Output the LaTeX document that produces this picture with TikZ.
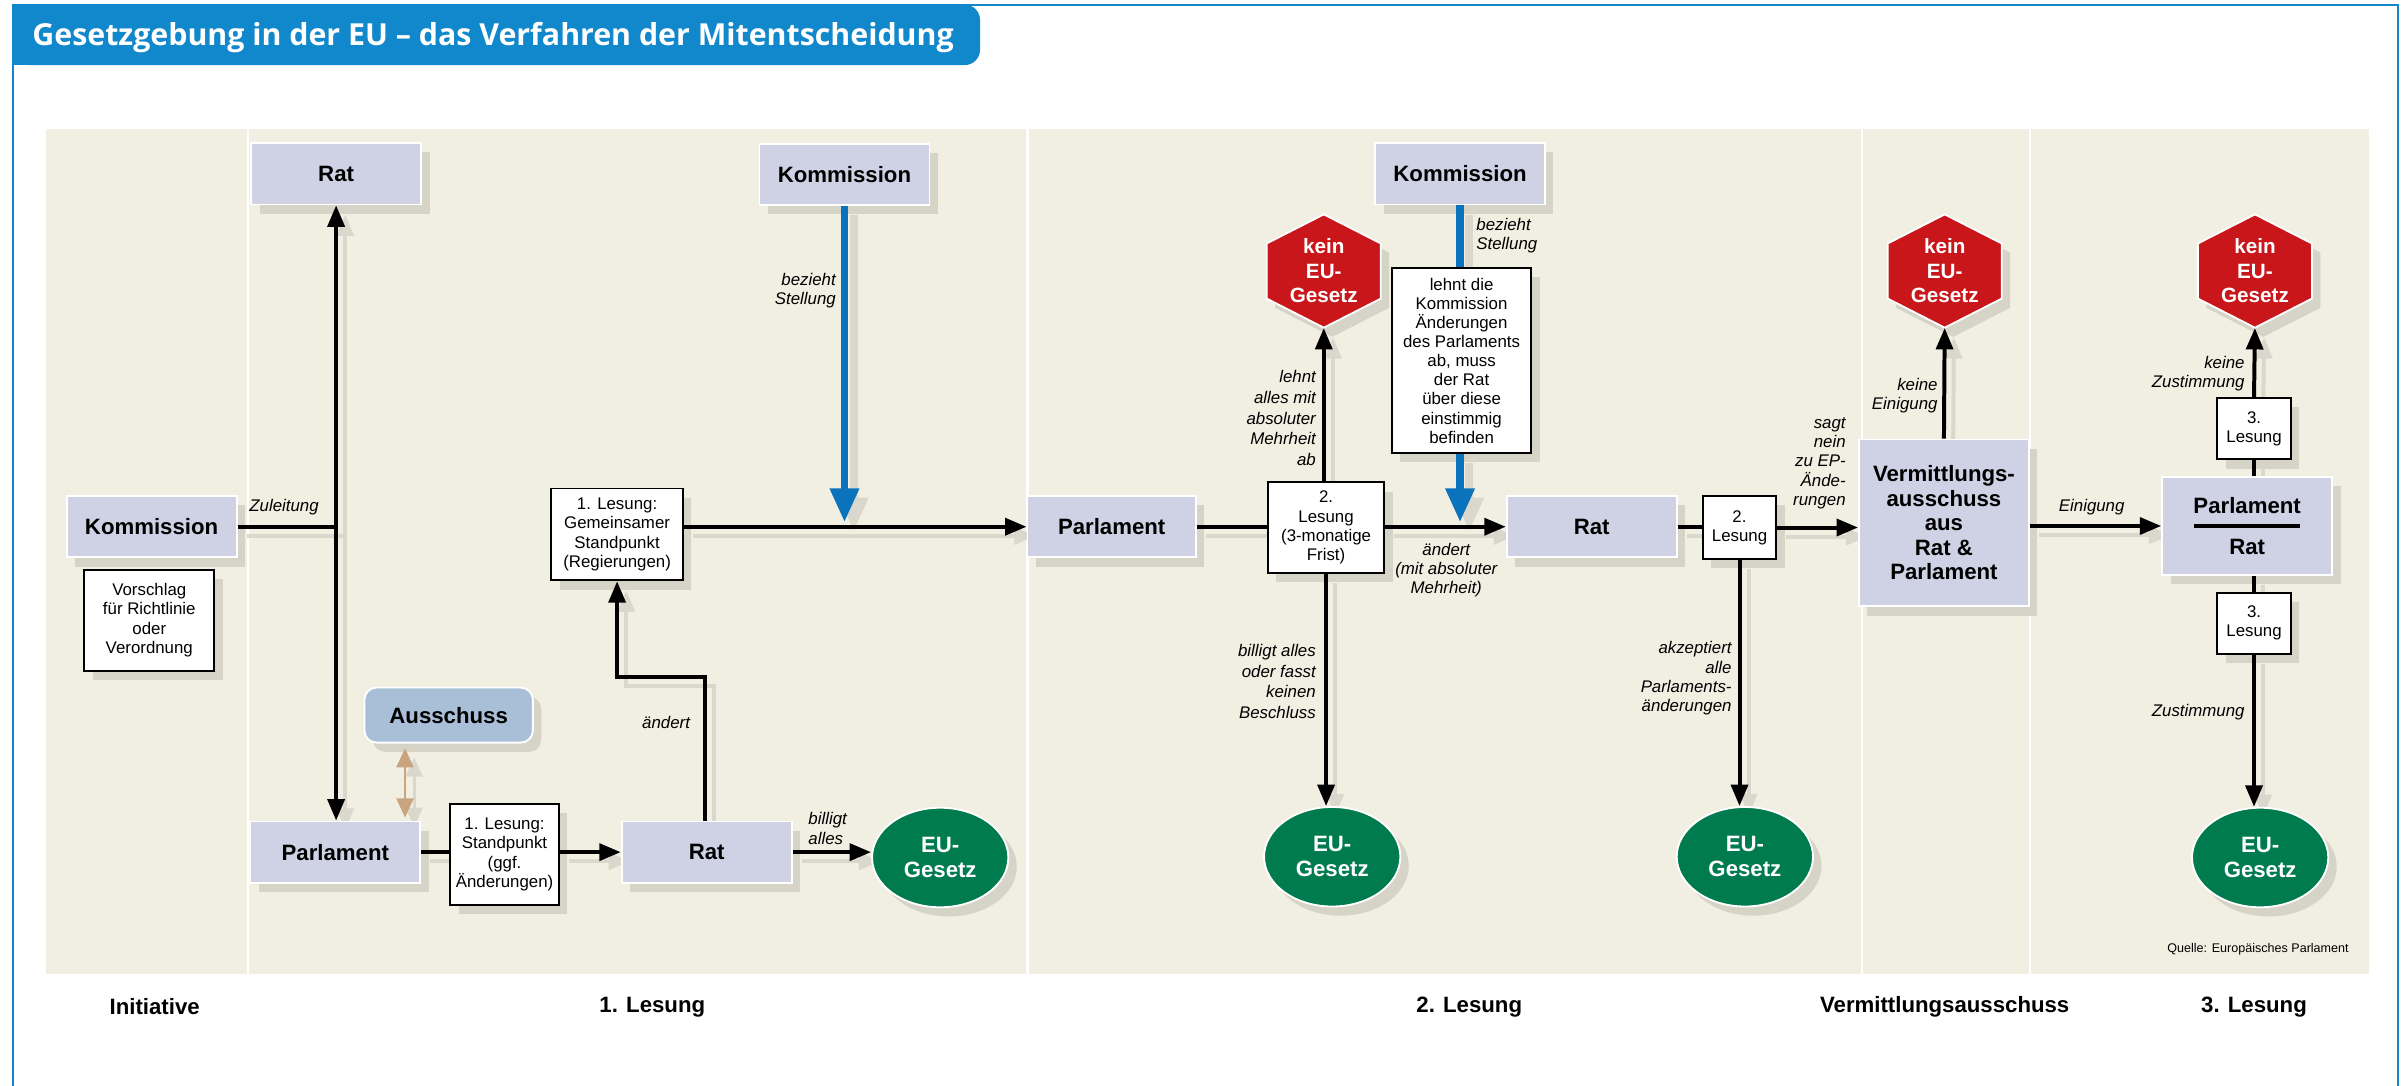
\documentclass[tikz,border=0pt]{standalone}
\usepackage{fontspec}
\setmainfont{Liberation Sans}
\newfontfamily\titlefont{Open Sans}
\usetikzlibrary{arrows.meta,shapes.geometric,shadows}

\definecolor{frameblue}{RGB}{16,136,203}
\definecolor{panel}{RGB}{241,238,226}
\definecolor{lav}{RGB}{207,210,228}
\definecolor{shgrey}{RGB}{214,211,199}
\definecolor{lgrey}{RGB}{218,216,205}
\definecolor{ablue}{RGB}{169,191,216}
\definecolor{kred}{RGB}{200,22,27}
\definecolor{kgreen}{RGB}{0,123,79}
\definecolor{tanbrown}{RGB}{200,165,127}
\definecolor{barblue}{RGB}{11,115,187}

\pgfdeclarelayer{bg}
\pgfdeclarelayer{shade}
\pgfsetlayers{bg,shade,main}

\tikzset{
  boxshadow/.style={drop shadow={shadow xshift=5.5pt,shadow yshift=-6pt,opacity=1,fill=shgrey}},
  organ/.style={draw=white,line width=1.2pt,fill=lav,minimum width=111pt,minimum height=40pt,
    inner sep=0pt,align=center,font=\fontsize{14.5}{16}\selectfont\bfseries,boxshadow},
  ausschussbox/.style={organ,fill=ablue,rounded corners=8pt,minimum width=110pt,minimum height=36pt},
  textbox/.style={draw=black,line width=1.2pt,fill=white,inner sep=1pt,align=center,
    font=\fontsize{11}{12.5}\selectfont,boxshadow},
  gesetz/.style={ellipse,draw=white,line width=1.2pt,fill=kgreen,text=white,inner sep=0pt,
    minimum width=89pt,minimum height=65pt,align=center,font=\fontsize{14.5}{16.3}\selectfont\bfseries,boxshadow},
  kein/.style={inner sep=0pt,minimum width=74.5pt,minimum height=74pt,text=white,align=center,
    font=\fontsize{13.5}{16}\selectfont\bfseries},
  lbl/.style={inner sep=0pt,align=right,font=\fontsize{11}{12.5}\selectfont\itshape},
  phase/.style={inner sep=0pt,font=\fontsize{14.5}{16}\selectfont\bfseries},
  conn/.style={line width=2.6pt},
  flow/.style={conn,-{Triangle[length=14pt,width=11pt]}},
  twoway/.style={conn,{Triangle[length=14pt,width=11pt]}-{Triangle[length=14pt,width=11pt]}},
  tanarrow/.style={draw=tanbrown,line width=1.7pt,{Triangle[length=12.5pt,width=11pt]}-{Triangle[length=12.5pt,width=11pt]}},
  bluebar/.style={draw=barblue,line width=5pt},
  bluearrow/.style={bluebar,-{Triangle[length=22pt,width=18pt]}},
  lineshadow/.style={draw=lgrey,transform canvas={shift={(6pt,-6pt)}}}
}

\newcommand{\pfeil}[2][flow]{%
  \begin{pgfonlayer}{shade}
    \draw[#1,lineshadow] #2;
  \end{pgfonlayer}
  \draw[#1] #2;}

\newcommand{\keinhex}[2]{%
  \fill[shgrey,shift={(5.5,6)}] (#2) +(0,-37) -- +(37.25,-18) -- +(37.25,18) -- +(0,37) -- +(-37.25,18) -- +(-37.25,-18) -- cycle;
  \filldraw[fill=kred,draw=white,line width=1.2pt] (#2) +(0,-37) -- +(37.25,-18) -- +(37.25,18) -- +(0,37) -- +(-37.25,18) -- +(-37.25,-18) -- cycle;
  \node[kein] (#1) at (#2) {kein\\EU-\\Gesetz};}

\begin{document}
\begin{tikzpicture}[x=1pt,y=-1pt]
  \useasboundingbox (0,0) rectangle (1568,709);

  \begin{pgfonlayer}{bg}
    \fill[panel] (30,84) rectangle (1547,636);
    \draw[white,line width=1.5pt] (162,84) -- (162,636);
    \draw[white,line width=1.5pt] (671,84) -- (671,636);
    \draw[white,line width=1.5pt] (1216,84) -- (1216,636);
    \draw[white,line width=1.5pt] (1325.5,84) -- (1325.5,636);
  \end{pgfonlayer}

  \draw[frameblue,line width=1.2pt] (8.5,709) -- (8.5,3.5) -- (1566,3.5) -- (1566,709);
  \fill[frameblue,rounded corners=10pt] (8.5,3) rectangle (640,42.5);
  \fill[frameblue] (8.5,3) rectangle (100,42.5);
  \node[anchor=base west,inner sep=0pt,text=white,font={\titlefont\bfseries\fontsize{19.8}{22}\selectfont}]
    (titel) at (21,29.6) {Gesetzgebung in der EU – das Verfahren der Mitentscheidung};

  % Initiative und 1. Lesung
  \node[organ] (komm0) at (99,344) {Kommission};
  \node[textbox,minimum width=85pt,minimum height=66pt] (vorschlag) at (97.5,405) {Vorschlag\\für Richtlinie\\oder\\Verordnung};
  \node[organ] (rat0) at (219.5,113.5) {Rat};
  \node[organ] (parl1) at (219,556.5) {Parlament};
  \node[ausschussbox] (aus) at (293,467) {Ausschuss};
  \node[textbox,minimum width=71pt,minimum height=66pt] (stand1) at (329.5,558) {1. Lesung:\\Standpunkt\\(ggf.\\Änderungen)};
  \node[organ] (rat1) at (461.5,556.5) {Rat};
  \node[gesetz] (gesetz1) at (614,560) {EU-\\Gesetz};
  \node[textbox,minimum width=86pt,minimum height=60pt] (gemein) at (403,349) {1. Lesung:\\Gemeinsamer\\Standpunkt\\(Regierungen)};
  \node[organ] (komm1) at (551.5,114) {Kommission};

  % 2. Lesung
  \node[organ,minimum width=110pt] (parl2) at (726,344) {Parlament};
  \node[textbox,minimum width=76pt,minimum height=59pt] (lesung2) at (866,344.5) {2.\\Lesung\\(3-monatige\\Frist)};
  \keinhex{kein2}{864.5,177}
  \node[gesetz] (gesetz2) at (870,559.5) {EU-\\Gesetz};
  \node[organ] (komm2) at (953.5,113.5) {Kommission};
  \node[textbox,minimum width=91pt,minimum height=121pt] (ablehn) at (954.5,235.5) {lehnt die\\Kommission\\Änderungen\\des Parlaments\\ab, muss\\der Rat\\über diese\\einstimmig\\befinden};
  \node[organ] (rat2) at (1039.5,344) {Rat};
  \node[textbox,minimum width=48pt,minimum height=41pt] (lesung2b) at (1136,344.5) {2.\\Lesung};
  \node[gesetz] (gesetz3) at (1139.5,559.5) {EU-\\Gesetz};

  % Vermittlung und 3. Lesung
  \node[organ,minimum height=109pt] (verm) at (1269.5,341.5) {Vermittlungs-\\ausschuss\\aus\\Rat \&\\Parlament};
  \keinhex{kein3}{1270,177}
  \node[organ,minimum height=64pt] (parlrat) at (1467.5,343.5) {Parlament\\[10.5pt]Rat};
  \draw[line width=2pt] ([xshift=-34.5pt]parlrat.center) -- ([xshift=34.5pt]parlrat.center);
  \node[textbox,minimum width=48pt,minimum height=40pt] (lesung3a) at (1472,280) {3.\\Lesung};
  \node[textbox,minimum width=48pt,minimum height=40pt] (lesung3b) at (1472,407) {3.\\Lesung};
  \keinhex{kein4}{1472.6,177}
  \node[gesetz] (gesetz4) at (1476,560) {EU-\\Gesetz};

  \coordinate (tip1) at (551.5,341);
  \coordinate (tip2) at (953.5,341);

  \pfeil[conn]{(komm0.east) -- (komm0.east -| rat0.south)}
  \pfeil[twoway]{(rat0.south) -- (rat0.south |- parl1.north)}
  \pfeil[tanarrow]{([xshift=-28.5pt,yshift=-3pt]aus.south) -- ([xshift=45.5pt,yshift=2pt]parl1.north)}
  \pfeil[conn]{(parl1.east) -- (parl1.east -| stand1.west)}
  \pfeil{(stand1.east |- rat1.west) -- (rat1.west)}
  \pfeil{(rat1.east) -- (rat1.east -| gesetz1.west)}
  \pfeil{([xshift=-1pt]rat1.north) -- ++(0,-94) -| (gemein.south)}
  \pfeil{(gemein.east |- parl2.west) -- (parl2.west)}
  \pfeil[bluearrow]{(komm1.south) -- (tip1)}
  \pfeil[conn]{(parl2.east) -- (parl2.east -| lesung2.west)}
  \pfeil{(kein2.south |- lesung2.north) -- (kein2.south)}
  \pfeil{(lesung2.south) -- (lesung2.south |- gesetz2.north)}
  \pfeil{(lesung2.east |- rat2.west) -- (rat2.west)}
  \pfeil[bluebar]{(komm2.south) -- (komm2.south |- ablehn.north)}
  \pfeil[bluearrow]{(komm2.south |- ablehn.south) -- (tip2)}
  \pfeil[conn]{(rat2.east) -- (rat2.east -| lesung2b.west)}
  \pfeil{(lesung2b.east) -- (lesung2b.east -| verm.west)}
  \pfeil{(lesung2b.south) -- (lesung2b.south |- gesetz3.north)}
  \pfeil{(verm.north) -- (kein3.south)}
  \pfeil{(verm.east |- parlrat.west) -- (parlrat.west)}
  \pfeil[conn]{(lesung3a.south |- parlrat.north) -- (lesung3a.south)}
  \pfeil{(lesung3a.north) -- (kein4.south)}
  \pfeil[conn]{(lesung3b.north |- parlrat.south) -- (lesung3b.north)}
  \pfeil{(lesung3b.south) -- (lesung3b.south |- gesetz4.north)}

  \node[lbl] (lzul) at (185.5,331) {Zuleitung};
  \node[lbl,align=left] (lbill1) at (540.5,541) {billigt\\alles};
  \node[lbl] (laend1) at (435,472) {ändert};
  \node[lbl,anchor=east] (lbez1) at (546,190) {bezieht\\Stellung};
  \node[lbl,anchor=east,font=\fontsize{11}{13.5}\selectfont\itshape] (llehnt) at (859.5,273) {lehnt\\alles mit\\absoluter\\Mehrheit\\ab};
  \node[lbl,anchor=east,font=\fontsize{11}{13.5}\selectfont\itshape] (lbill2) at (859.5,445) {billigt alles\\oder fasst\\keinen\\Beschluss};
  \node[lbl,align=center] (laend2) at (944.5,372.5) {ändert\\(mit absoluter\\Mehrheit)};
  \node[lbl,anchor=west,align=left,font=\fontsize{11}{12}\selectfont\itshape] (lbez2) at (964,154) {bezieht\\Stellung};
  \node[lbl,anchor=east] (lsagt) at (1205.5,302.5) {sagt\\nein\\zu EP-\\Ände-\\rungen};
  \node[lbl,anchor=east] (lakz) at (1131,443) {akzeptiert\\alle\\Parlaments-\\änderungen};
  \node[lbl,anchor=east] (lkeinein) at (1265.5,258.5) {keine\\Einigung};
  \node[lbl] (leinig) at (1366,331) {Einigung};
  \node[lbl,anchor=east] (lkeinzu) at (1466,244) {keine\\Zustimmung};
  \node[lbl,anchor=east] (lzust) at (1466,465) {Zustimmung};

  \node[anchor=east,inner sep=0pt,font=\fontsize{8.2}{10}\selectfont] (quelle) at (1534,620) {Quelle: Europäisches Parlament};

  \node[phase] (ph0) at (101,657.5) {Initiative};
  \node[phase] (ph1) at (426,657.5) {1. Lesung};
  \node[phase] (ph2) at (959.5,657.5) {2. Lesung};
  \node[phase] (ph3) at (1270,657.5) {Vermittlungsausschuss};
  \node[phase] (ph4) at (1472,657.5) {3. Lesung};
\end{tikzpicture}
\end{document}
